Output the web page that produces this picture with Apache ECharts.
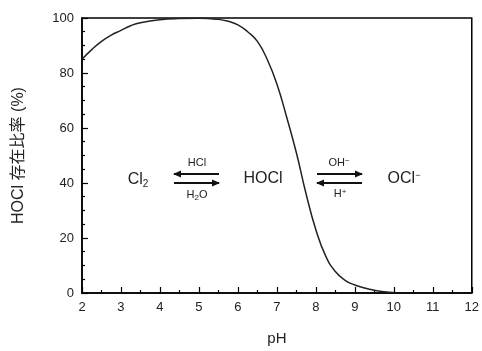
<!DOCTYPE html>
<html>
<head>
<meta charset="utf-8">
<script src="https://cdn.jsdelivr.net/npm/echarts@6/dist/echarts.min.js"></script>
<style>
  html, body { margin: 0; padding: 0; background: #fff; }
  #chart { width: 482px; height: 351px; }
</style>
</head>
<body>
<div id="chart"></div>
<script>
// pH と HOCl 存在比率 (%)
const phValues = [2, 2.25, 2.5, 2.75, 3, 3.25, 3.5, 4, 4.5, 5, 5.5, 5.75, 6, 6.25, 6.5, 6.75, 7, 7.25, 7.5, 7.75, 8, 8.25, 8.5, 8.75, 9, 9.25, 9.5, 9.75, 10];
const hoclRatio = [85, 88.5, 91.5, 93.8, 95.5, 97.2, 98.3, 99.4, 99.8, 99.9, 99.5, 98.8, 97.5, 95, 91.5, 85, 76, 64, 51, 36, 23, 13.5, 7.8, 4.6, 2.9, 1.8, 1, 0.5, 0.2];

const FONT = '"Liberation Sans", "Noto Sans CJK JP", sans-serif';

const chart = echarts.init(document.getElementById('chart'));

// 矢印 (左向き / 右向き)
function arrow(x1, x2, y, dir) {
  const tip = dir === 'left' ? x1 : x2;
  const s = dir === 'left' ? 1 : -1;
  return [
    { type: 'line', shape: { x1: x1, y1: y, x2: x2, y2: y },
      style: { stroke: '#111', lineWidth: 2 } },
    { type: 'polygon', shape: { points: [[tip - s, y], [tip + s * 7, y - 3.4], [tip + s * 7, y + 3.4]] },
      style: { fill: '#111' } }
  ];
}

function label(x, y, text, size, rich) {
  return {
    type: 'text', x: x, y: y,
    style: {
      text: text, fill: '#222', font: size + 'px ' + FONT,
      align: 'center', verticalAlign: 'middle', rich: rich || {}
    }
  };
}

const sub = { fontSize: 10, fontFamily: FONT, fill: '#222', padding: [8, 0, 0, 0] };
const sup = { fontSize: 9, fontFamily: FONT, fill: '#222', padding: [0, 0, 7, 0] };
const subSmall = { fontSize: 8, fontFamily: FONT, fill: '#222', padding: [5, 0, 0, 0] };
const supSmall = { fontSize: 8, fontFamily: FONT, fill: '#222', padding: [0, 0, 5, 0] };

const option = {
  animation: false,
  backgroundColor: '#fff',
  grid: {
    left: 82, right: 9, top: 18, bottom: 55,
    show: true, borderColor: '#000', borderWidth: 1.5
  },
  xAxis: {
    type: 'value', min: 2, max: 12, interval: 1,
    name: 'pH', nameLocation: 'middle', nameGap: 38,
    nameTextStyle: { fontFamily: FONT, fontSize: 15, color: '#222' },
    axisLine: { show: true, lineStyle: { color: '#000', width: 1.5 } },
    axisTick: { show: true, inside: true, length: 6, lineStyle: { color: '#000', width: 1.2 } },
    minorTick: { show: true, splitNumber: 2, length: 3, lineStyle: { color: '#000', width: 1.2 } },
    axisLabel: { fontFamily: FONT, fontSize: 13, color: '#222', margin: 8 },
    splitLine: { show: false }
  },
  yAxis: {
    type: 'value', min: 0, max: 100, interval: 20,
    name: 'HOCl 存在比率 (%)', nameLocation: 'middle', nameGap: 55,
    nameTextStyle: { fontFamily: FONT, fontSize: 16, color: '#222' },
    axisLine: { show: true, lineStyle: { color: '#000', width: 1.5 } },
    axisTick: { show: true, inside: true, length: 6, lineStyle: { color: '#000', width: 1.2 } },
    minorTick: { show: true, splitNumber: 4, length: 3, lineStyle: { color: '#000', width: 1.2 } },
    axisLabel: { fontFamily: FONT, fontSize: 13, color: '#222', margin: 8 },
    splitLine: { show: false }
  },
  series: [{
    type: 'line',
    data: phValues.map((p, i) => [p, hoclRatio[i]]),
    smooth: 0.5,
    showSymbol: false,
    lineStyle: { color: '#222', width: 1.5 }
  }],
  graphic: [
    label(138, 180, 'Cl{s|2}', 16, { s: sub }),
    label(263, 179, 'HOCl', 16),
    label(404, 179, 'OCl{s|−}', 16, { s: sup }),
    label(197, 163, 'HCl', 11),
    label(197, 195, 'H{s|2}O', 11, { s: subSmall }),
    label(339, 163, 'OH{s|−}', 11, { s: supSmall }),
    label(340, 194, 'H{s|+}', 11, { s: supSmall }),
    ...arrow(174, 219, 174, 'left'),
    ...arrow(174, 219, 183, 'right'),
    ...arrow(317, 362, 174, 'right'),
    ...arrow(317, 362, 183, 'left')
  ]
};

chart.setOption(option);
</script>
</body>
</html>
